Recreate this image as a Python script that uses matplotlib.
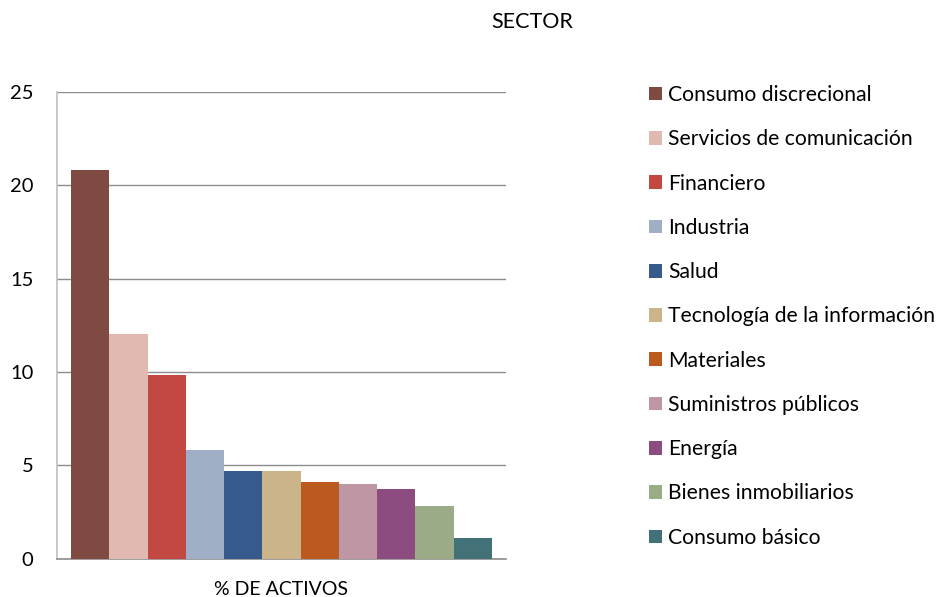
from matplotlib import pyplot as plt
from matplotlib.patches import Patch
import numpy as np

plt.rcParams['font.family'] = ['Lato', 'DejaVu Sans']

sectores = ['Consumo discrecional', 'Servicios de comunicación', 'Financiero',
            'Industria', 'Salud', 'Tecnología de la información', 'Materiales',
            'Suministros públicos', 'Energía', 'Bienes inmobiliarios', 'Consumo básico']
pesos = [20.8, 12.03, 9.83, 5.82, 4.69, 4.69, 4.1, 4.0, 3.73, 2.82, 1.11]
colores = ['#7E4A41', '#E0BAB1', '#C34841', '#9FAFC5', '#375A8C', '#CCB48A',
           '#BB5A1F', '#BF96A4', '#8C4C80', '#9BAA87', '#427278']
yticks = [0, 5, 10, 15, 20, 25]

fig = plt.figure(figsize=(9.36, 5.97), dpi=100)
ax = fig.add_axes([57/936, 1-558.7/597, 449/936, 467/597])

x = np.arange(len(pesos))
ax.bar(x, pesos, width=1.0, color=colores, zorder=3)
ax.set_xlim(-0.5-14/38.3, len(pesos)-0.5+14/38.3)
ax.set_ylim(0, 25)
ax.set_yticks(yticks)
ax.yaxis.grid(True, color='#8C8C8C', linewidth=1.0, zorder=0)
ax.set_xticks([])
for s in ['top', 'right']:
    ax.spines[s].set_visible(False)
ax.spines['left'].set_color('#BFBFBF')
ax.spines['left'].set_linewidth(1.2)
ax.spines['bottom'].set_color('#8C8C8C')
ax.spines['bottom'].set_linewidth(1.2)
ax.tick_params(axis='y', length=0, labelsize=14.5, pad=17)
ax.set_xlabel('% DE ACTIVOS', fontsize=14, labelpad=16)

fig.text(532/936, 1-22/597, 'SECTOR', ha='center', va='center', fontsize=15.5)

handles = [Patch(facecolor=c, label=s) for c, s in zip(colores, sectores)]
fig.legend(handles=handles, loc='upper left', bbox_to_anchor=(649/936, 1-85/597),
           frameon=False, fontsize=15.2, handlelength=0.62, handleheight=0.62,
           handletextpad=0.3, labelspacing=1.15, borderpad=0, borderaxespad=0)

plt.savefig('out.png', dpi=100)
